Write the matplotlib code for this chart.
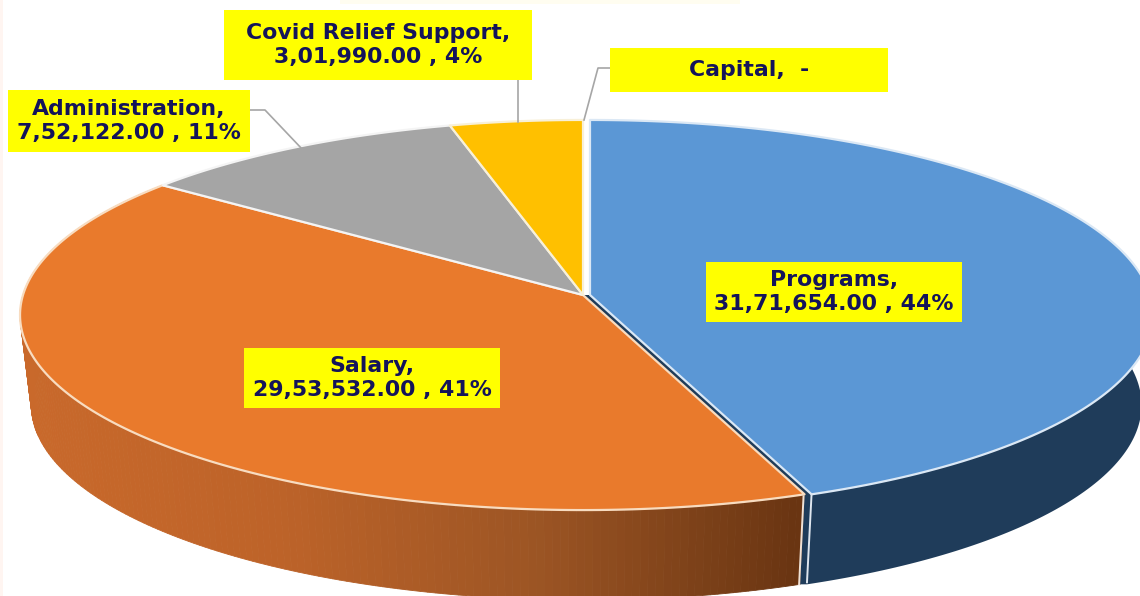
import matplotlib
matplotlib.use('Agg')
import matplotlib.pyplot as plt
from matplotlib.colors import LinearSegmentedColormap
from matplotlib.patches import Polygon, Rectangle
import numpy as np

categories = ['Programs', 'Salary', 'Administration', 'Covid Relief Support', 'Capital']
values = [3171654, 2953532, 752122, 301990, 0]
value_labels = ['31,71,654.00', '29,53,532.00', '7,52,122.00', '3,01,990.00', '-']
percents = ['44%', '41%', '11%', '4%', '']
top_colors = ['#5b97d5', '#e97a2c', '#a5a5a5', '#ffc000', '#4472c4']
rim_colors = ['#dbe8f5', '#f8dcc0', '#f4f4f4', '#f8f0d8', '#f4f4f4']
side_colors = ['#1f3c5a', None, '#636363', '#997300', '#264478']

# pixel geometry of the tilted pie
cx, cy = 583, 295
rx, ry = 560, 193
tilt = 0.1026
depth = 90
bottom_scale = 0.98  # base rim is a bit narrower than the top rim
explode = [7, 0, 0, 0, 0]


def project(ang):
    # angle clockwise from 12 o'clock, perspective so the apex sits above the ellipse centre
    u = np.sin(ang)
    v = np.cos(ang)
    den = 1 + tilt * v
    return cx + rx * u / den, cy - ry * v / den


def base_x(x):
    return cx + (x - cx) * bottom_scale


fig = plt.figure(figsize=(11.4, 5.96), dpi=100)
ax = fig.add_axes([0, 0, 1, 1])
ax.set_xlim(0, 1140)
ax.set_ylim(596, 0)
ax.axis('off')

# faint traces along the crop of the original picture
ax.add_patch(Rectangle((0, 0), 3, 596, fc='#fff5f1', ec='none', zorder=1))
ax.add_patch(Rectangle((340, 0), 400, 4, fc='#fffdf0', ec='none', zorder=1))

orange_side = LinearSegmentedColormap.from_list('side', ['#c9692b', '#bd6329', '#9c5524', '#6a3512'])
fracs = np.array(values) / sum(values)
edges = np.concatenate([[0], np.cumsum(fracs)]) * 2 * np.pi

for i, cat in enumerate(categories):
    if values[i] == 0:
        continue
    a = np.linspace(edges[i], edges[i + 1], 200)
    x, y = project(a)
    x = x + explode[i]

    # outer wall
    if side_colors[i] is None:
        # only the front part of the arc can be seen, shade across it
        for j in range(len(a) - 1):
            c = orange_side(np.clip((x[j] - 20) / 780, 0, 1))
            ax.add_patch(Polygon([(x[j], y[j]), (x[j + 1], y[j + 1]),
                                  (base_x(x[j + 1]), y[j + 1] + depth), (base_x(x[j]), y[j] + depth)],
                                 fc=c, ec=c, lw=0.6, zorder=2))
    else:
        ax.add_patch(Polygon(list(zip(x, y)) + list(zip(base_x(x[::-1]), y[::-1] + depth)),
                             fc=side_colors[i], ec='none', zorder=2))

    # top face
    apex = (cx + explode[i], cy)
    ax.add_patch(Polygon([apex] + list(zip(x, y)), fc=top_colors[i], ec=rim_colors[i],
                         lw=1.6, joinstyle='round', zorder=4))

# cut face of the pulled out slice, and the white edge of the wall
ex, ey = project(edges[1])
ex2 = ex + explode[0]
ax.add_patch(Polygon([(cx + explode[0], cy), (ex2, ey), (base_x(ex2), ey + depth),
                      (base_x(ex), ey + depth), (ex, ey), (cx, cy)],
                     fc=side_colors[0], ec='none', zorder=3))
ax.plot([ex2, base_x(ex2)], [ey, ey + depth - 2], color='#dfe6ee', lw=1.4, zorder=5)
ax.plot([ex - 1, base_x(ex) - 1], [ey + 2, ey + depth], color='#f0e2d6', lw=1.4, zorder=5)

# leader lines
line_color = '#a6a6a6'
ax.plot([250, 265, 303], [110, 110, 150], color=line_color, lw=1.2, zorder=5)
ax.plot([518, 518], [80, 122], color=line_color, lw=1.2, zorder=5)
ax.plot([610, 598, 584], [68, 68, 120], color=line_color, lw=1.2, zorder=5)

# data labels
boxes = [(706, 262, 256, 60), (244, 348, 256, 60), (8, 90, 242, 62), (224, 10, 308, 70), (610, 48, 278, 44)]
for i, cat in enumerate(categories):
    bx, by, bw, bh = boxes[i]
    ax.add_patch(Rectangle((bx, by), bw, bh, fc='#ffff00', ec='none', zorder=6))
    if values[i] == 0:
        label = f'{cat},  {value_labels[i]}'
    else:
        label = f'{cat},\n{value_labels[i]} , {percents[i]}'
    ax.text(bx + bw / 2, by + bh / 2, label, ha='center', va='center', color='#14145a',
            fontsize=15.8, fontweight='bold', family='DejaVu Sans', linespacing=1.3, zorder=7)

fig.savefig('out.png', dpi=100, facecolor='white')
